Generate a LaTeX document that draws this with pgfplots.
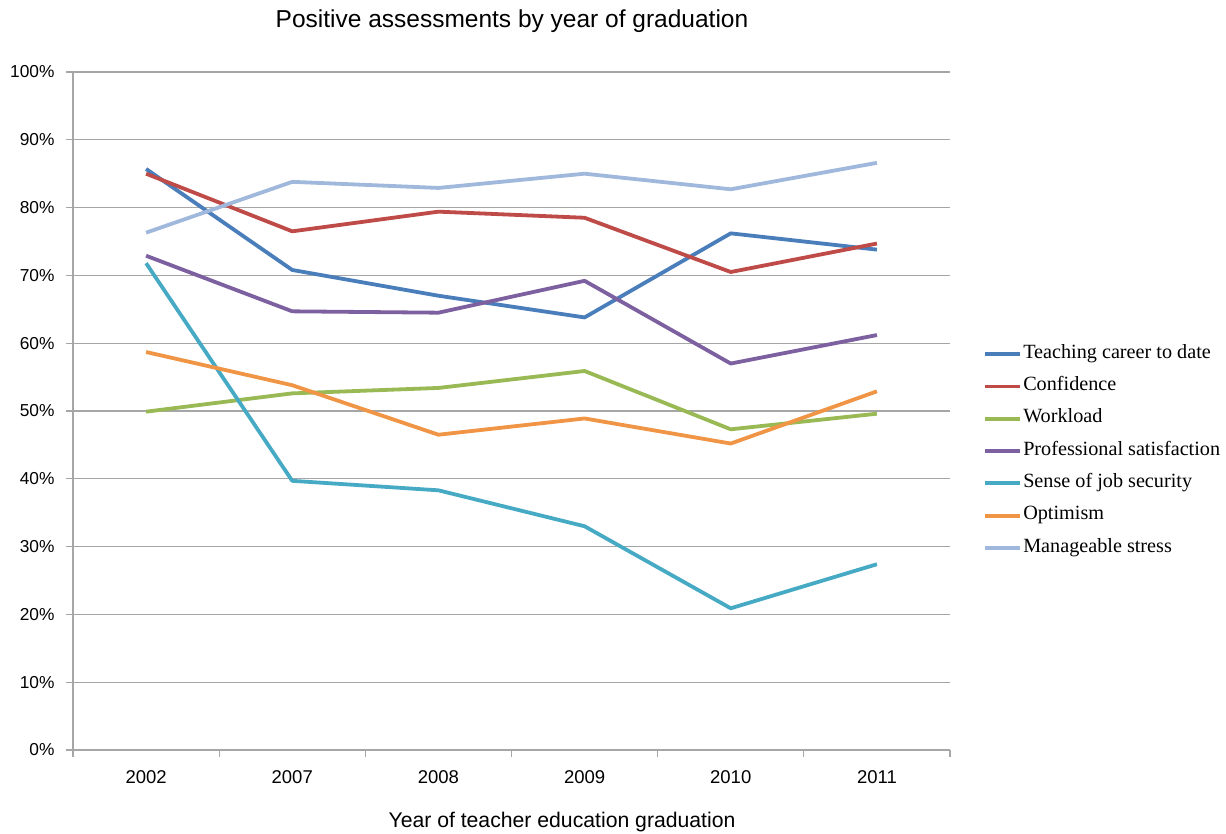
\documentclass[border=0pt]{standalone}
\usepackage{pgfplots}
\pgfplotsset{compat=1.18}
\usepackage{fontspec}
\setmainfont{Liberation Sans}
\newfontfamily\legfont{Liberation Serif}

\definecolor{cTeach}{HTML}{4A7EBB}
\definecolor{cConf}{HTML}{BE4B48}
\definecolor{cWork}{HTML}{98B954}
\definecolor{cProf}{HTML}{7D60A0}
\definecolor{cSec}{HTML}{46AAC5}
\definecolor{cOpt}{HTML}{F09545}
\definecolor{cStress}{HTML}{A0B8DB}
\definecolor{cGrid}{HTML}{A6A6A6}

\begin{document}
\begin{tikzpicture}[x=1pt,y=1pt]
\path[use as bounding box] (0,0) rectangle (1226,833);
\begin{axis}[
  at={(73pt,83pt)}, anchor=south west,
  scale only axis, width=877pt, height=678pt,
  xmin=-0.5, xmax=5.5, ymin=0, ymax=100,
  axis x line*=bottom, axis y line*=left,
  axis line style={cGrid, line width=1.3pt, -},
  ymajorgrids, grid style={cGrid, line width=1.3pt},
  xtick={0,1,2,3,4,5},
  xticklabels={2002,2007,2008,2009,2010,2011},
  minor xtick={-0.5,0.5,1.5,2.5,3.5,4.5,5.5},
  major x tick style={draw=none},
  minor x tick style={cGrid, line width=1.3pt},
  minor tick length=7pt,
  ytick={0,10,...,100},
  yticklabels={0\%,10\%,20\%,30\%,40\%,50\%,60\%,70\%,80\%,90\%,100\%},
  major y tick style={cGrid, line width=1.3pt},
  major tick length=7pt,
  tick align=outside,
  yticklabel style={font=\fontsize{17.3}{20}\selectfont, text=black, xshift=-8pt},
  xticklabel style={font=\fontsize{18.5}{21}\selectfont, text=black, yshift=-10pt},
  every axis plot/.append style={line width=3.8pt, line join=round},
  legend image code/.code={\draw[#1, line width=3.8pt] (0pt,0pt) -- (35pt,0pt);},
  legend cell align=left,
  legend style={draw=none, fill=none, at={(1.0345,0.600)}, anchor=north west,
    font=\legfont\fontsize{20.2}{23}\selectfont,
    nodes={inner xsep=1pt, inner ysep=0pt, text height=13pt, text depth=4.5pt},
    row sep=14.8pt},
]
\addplot[cTeach] coordinates {(0,85.7) (1,70.8) (2,67.0) (3,63.8) (4,76.2) (5,73.8)};
\addlegendentry{Teaching career to date}
\addplot[cConf] coordinates {(0,85.0) (1,76.5) (2,79.4) (3,78.5) (4,70.5) (5,74.7)};
\addlegendentry{Confidence}
\addplot[cWork] coordinates {(0,49.9) (1,52.6) (2,53.4) (3,55.9) (4,47.3) (5,49.6)};
\addlegendentry{Workload}
\addplot[cProf] coordinates {(0,72.9) (1,64.7) (2,64.5) (3,69.2) (4,57.0) (5,61.2)};
\addlegendentry{Professional satisfaction}
\addplot[cSec] coordinates {(0,71.8) (1,39.7) (2,38.3) (3,33.0) (4,20.9) (5,27.4)};
\addlegendentry{Sense of job security}
\addplot[cOpt] coordinates {(0,58.7) (1,53.8) (2,46.5) (3,48.9) (4,45.2) (5,52.9)};
\addlegendentry{Optimism}
\addplot[cStress] coordinates {(0,76.3) (1,83.8) (2,82.9) (3,85.0) (4,82.7) (5,86.6)};
\addlegendentry{Manageable stress}
\end{axis}
\node[font=\fontsize{24.5}{29}\selectfont] at (512,812) {Positive assessments by year of graduation};
\node[font=\fontsize{21.2}{25}\selectfont] at (562,11) {Year of teacher education graduation};
\end{tikzpicture}
\end{document}
